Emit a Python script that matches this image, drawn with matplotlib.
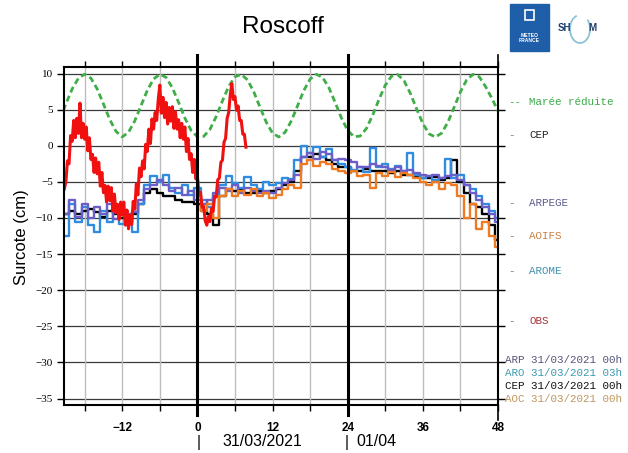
import numpy as np
import matplotlib.pyplot as plt
from matplotlib.patches import Rectangle, Arc

W, H = 628, 453

# ── Data ───────────────────────────────────────────────────────────────────────
# tide (Marée réduite), hourly
tide_hours = np.arange(-22, 49)
tide = [3.64, 5.78, 7.86, 9.35, 9.9, 9.35, 7.86, 5.78, 3.64, 1.99, 1.22,
        1.86, 3.44, 5.55, 7.66, 9.24, 9.89, 9.46, 8.03, 5.99, 3.84, 2.11,
        1.25, 1.29, 2.25, 4.04, 6.21, 8.21, 9.55, 9.88, 9.12, 7.46, 5.33,
        3.25, 1.74, 1.21, 1.86, 3.44, 5.55, 7.66, 9.24, 9.89, 9.46, 8.03,
        5.99, 3.84, 2.11, 1.25, 1.34, 2.40, 4.25, 6.42, 8.38, 9.63, 9.85,
        8.99, 7.26, 5.11, 3.07, 1.64, 1.2, 1.74, 3.25, 5.33, 7.46, 9.12,
        9.88, 9.55, 8.21, 6.6, 4.8]

# observations, every 15 min
obs_hours = np.arange(-21.25, 8.0, 0.25)
obs = [-6.0, -5.0, -2.1, -2.5, 1.4, 0.6, 3.5, 1.1, 3.8, 1.7,
       5.9, 1.1, 3.1, 0.9, 2.6, -0.7, 1.1, -1.9, -1.2, -3.7,
       -1.7, -3.9, -2.3, -5.6, -3.7, -6.5, -5.5, -7.8, -5.6, -7.6,
       -5.8, -9.0, -6.7, -9.3, -8.1, -10.2, -7.8, -9.6, -7.8, -11.0,
       -8.9, -11.5, -9.6, -10.9, -7.7, -8.8, -5.3, -6.8, -3.1, -4.3,
       -2.1, -3.2, 0.2, -0.8, 2.3, 0.3, 3.7, 2.3, 4.6, 3.5,
       6.4, 8.4, 4.5, 6.7, 3.9, 6.0, 3.0, 5.3, 3.4, 5.4,
       2.4, 4.7, 2.3, 3.6, 1.1, 3.1, 0.9, 2.6, -0.8, 1.0,
       -1.9, -1.1, -3.7, -1.9, -4.6, -4.2, -6.6, -6.5, -8.5, -8.4,
       -10.4, -11.0, -9.8, -10.5, -8.7, -9.1, -7.0, -7.1, -4.7, -4.5,
       -2.3, -2.0, 0.5, 1.0, 3.8, 4.6, 7.1, 8.6, 6.4, 6.8,
       4.9, 5.5, 3.5, 3.5, 1.6, 1.6, -0.2]

# model forecasts, hourly
model_hours = np.arange(-22, 49)
arpege = [-9.0, -9.5, -7.5, -9.8, -8.0, -10.0, -8.5, -9.5, -8.0, -10.2,
          -9.0, -10.0, -9.2, -7.5, -6.0, -5.5, -4.8, -5.5, -6.2, -5.8,
          -6.8, -6.2, -7.5, -8.0, -7.5, -6.5, -5.8, -6.2, -5.5, -6.5,
          -5.8, -6.3, -6.5, -6.2, -6.5, -5.8, -5.2, -4.8, -4.0, -1.5,
          -1.0, -1.8, -0.8, -1.2, -2.0, -1.8, -2.0, -2.2, -2.9, -3.0,
          -2.5, -2.8, -3.0, -3.3, -3.0, -3.5, -3.3, -3.8, -4.0, -4.2,
          -4.0, -4.5, -4.2, -4.0, -4.8, -5.5, -6.5, -7.5, -8.5, -9.5,
          -10.5]
arome = [-14.0, -12.5, -8.0, -10.5, -8.5, -11.0, -12.0, -9.0, -10.5, -8.5,
         -10.8, -9.5, -12.0, -8.0, -5.5, -4.2, -5.0, -4.0, -5.8, -6.5,
         -5.5, -6.8, -5.8, -7.5, -8.5, -7.0, -5.5, -4.2, -5.2, -5.8,
         -4.3, -5.5, -6.0, -5.0, -5.5, -5.2, -4.5, -4.6, -2.0, 0.0,
         -1.0, -0.2, -1.5, -0.5, -2.0, -2.5, -3.0, -3.3, -3.0, -3.6,
         -0.3, -3.0, -2.5, -3.2, -2.8, -3.5, -1.0, -4.0, -4.5, -4.2,
         -4.8, -4.5, -1.8, -4.5, -4.0, -5.5, -6.0, -7.0, -8.0, -9.0,
         -10.0]
cep = [-10.0, -9.5, -9.0, -9.5, -9.0, -8.8, -9.2, -9.8, -9.0, -9.5,
       -10.0, -10.5, -9.5, -8.0, -6.5, -6.0, -6.5, -7.0, -7.0, -7.5,
       -7.8, -7.8, -8.0, -9.0, -9.5, -11.0, -7.0, -6.0, -6.2, -6.0,
       -6.5, -6.5, -6.3, -6.5, -6.2, -6.0, -5.5, -5.0, -3.5, -1.5,
       -1.5, -1.2, -1.5, -2.0, -2.5, -3.0, -3.0, -3.5, -3.5, -3.2,
       -3.5, -3.5, -3.5, -3.8, -3.5, -4.0, -4.0, -4.2, -4.5, -4.5,
       -4.3, -4.8, -4.5, -2.0, -5.0, -6.5, -8.0, -8.5, -9.5, -11.0,
       -13.0]
aoifs_hours = np.arange(0, 49)
aoifs = [-7.0, -9.0, -8.0, -10.0, -7.0, -6.0, -7.0, -6.2, -6.8, -6.0,
         -7.0, -6.5, -7.2, -6.8, -6.0, -5.5, -5.8, -2.5, -2.0, -2.8,
         -2.2, -2.5, -3.2, -3.5, -3.8, -3.5, -4.2, -4.0, -5.9, -3.8,
         -4.2, -3.6, -4.3, -3.8, -4.0, -4.5, -5.0, -5.5, -5.0, -6.0,
         -5.2, -5.5, -7.0, -10.0, -8.0, -11.5, -10.5, -12.5, -14.0]

legend_names = ['Marée réduite', 'CEP', 'ARPEGE', 'AOIFS', 'AROME', 'OBS']
run_labels = ['ARP 31/03/2021 00h', 'ARO 31/03/2021 03h',
              'CEP 31/03/2021 00h', 'AOC 31/03/2021 00h']

# ── Figure ─────────────────────────────────────────────────────────────────────
def px(x, y):
    return x / W, 1 - y / H

fig = plt.figure(figsize=(W / 100, H / 100), dpi=100)
ax = fig.add_axes([64 / W, 1 - 405 / H, (498 - 64) / W, (405 - 67) / H])
ax.set_xlim(-21.3, 48)
ax.set_ylim(-35.9, 10.9)

for y in range(-35, 11, 5):
    ax.axhline(y, color='#3a3a3a', lw=0.9, zorder=1)
for x in range(-18, 48, 6):
    if x not in (0, 24):
        ax.axvline(x, color='#bdbdbd', lw=1.0, zorder=1)

ax.plot(tide_hours, tide, color='#3fae49', lw=2.0, dashes=(2.2, 1.3), zorder=3)
ax.step(model_hours, cep, where='mid', color='black', lw=1.7, zorder=3)
ax.step(model_hours, arome, where='mid', color='#2f8ce0', lw=1.7, zorder=3)
ax.step(model_hours, arpege, where='mid', color='#6c5ec8', lw=1.7, zorder=3)
ax.step(aoifs_hours, aoifs, where='mid', color='#ee7a22', lw=1.7, zorder=3)
ax.plot(obs_hours, obs, color='#f01010', lw=2.2, zorder=4)

for x in (0, 24):
    ax.axvline(x, ymin=-0.03, ymax=1.035, color='black', lw=2.2, zorder=6, clip_on=False)
ax.axvline(48, ymin=-0.045, ymax=1.035, color='black', lw=1.2, zorder=6, clip_on=False)

for s in ax.spines.values():
    s.set_linewidth(1.5)
    s.set_zorder(7)

ax.set_xticks([-12, 0, 12, 24, 36, 48])
ax.set_xticks(range(-18, 48, 6), minor=True)
ax.tick_params(axis='x', which='both', direction='out', length=4, width=1,
               top=True, bottom=True, pad=8)
for lab in ax.get_xticklabels():
    lab.set_fontfamily('Liberation Sans')
    lab.set_fontweight('bold')
    lab.set_fontsize(8.5)

ax.set_yticks(range(-35, 11, 5))
ax.tick_params(axis='y', direction='out', length=5, width=1, left=True, right=True, pad=3)
for lab in ax.get_yticklabels():
    lab.set_fontfamily('Liberation Serif')
    lab.set_fontsize(8)

# titles and axis text
fig.text(*px(283, 27), 'Roscoff', ha='center', va='center', fontsize=17.5,
         family='Liberation Sans')
fig.text(*px(22, 237), 'Surcote (cm)', ha='center', va='center', rotation=90,
         fontsize=12, family='Liberation Sans')

date_y = 442
for xp, s in [(199, '|'), (222, '31/03/2021'), (347, '|'), (356, '01/04')]:
    fig.text(*px(xp, date_y), s, ha='left' if s != '|' else 'center', va='center',
             fontsize=11.5, family='Liberation Sans')

# legend on the right
mono = 'Liberation Mono'
legend_colors = ['#3aaa4a', '#222222', '#5c5c8c', '#c98040', '#3d8fb0', '#a8303a']
legend_y = [102, 135, 203, 236, 271, 321]
for name, c, yp in zip(legend_names, legend_colors, legend_y):
    mark = '--' if name == 'Marée réduite' else '-'
    mcol = c if name == 'Marée réduite' else '#777777'
    fig.text(*px(508, yp), mark, ha='left', va='center', fontsize=7.8,
             family=mono, color=mcol)
    fig.text(*px(529, yp), name, ha='left', va='center', fontsize=7.8,
             family=mono, color=c)

run_colors = ['#55557a', '#3a9ab0', '#111111', '#c0955e']
for s, c, yp in zip(run_labels, run_colors, [360, 373, 386, 399]):
    fig.text(*px(505, yp), s, ha='left', va='center', fontsize=7.8,
             family=mono, color=c)

# logos
fig.add_artist(Rectangle(px(510, 51), 39 / W, 47 / H, transform=fig.transFigure,
                         color='#1f5ea8'))
fig.add_artist(Rectangle(px(525, 20), 9 / W, 10 / H, transform=fig.transFigure,
                         facecolor='none', edgecolor='white', lw=1.2))
fig.text(*px(529.5, 38), 'METEO\nFRANCE', ha='center', va='center', fontsize=3.6,
         fontweight='bold', color='white', family='Liberation Sans', linespacing=0.9)
fig.text(*px(558, 28), 'SH', ha='left', va='center', fontsize=7,
         fontweight='bold', color='#1d3f6e', family='Liberation Sans')
fig.text(*px(588, 28), 'M', ha='left', va='center', fontsize=7,
         fontweight='bold', color='#1d3f6e', family='Liberation Sans')
fig.add_artist(Arc(px(580, 29), 20 / W, 28 / H, theta1=100, theta2=60,
                   transform=fig.transFigure, color='#8cc3d6', lw=1.3))

fig.savefig('out.png', dpi=100)
